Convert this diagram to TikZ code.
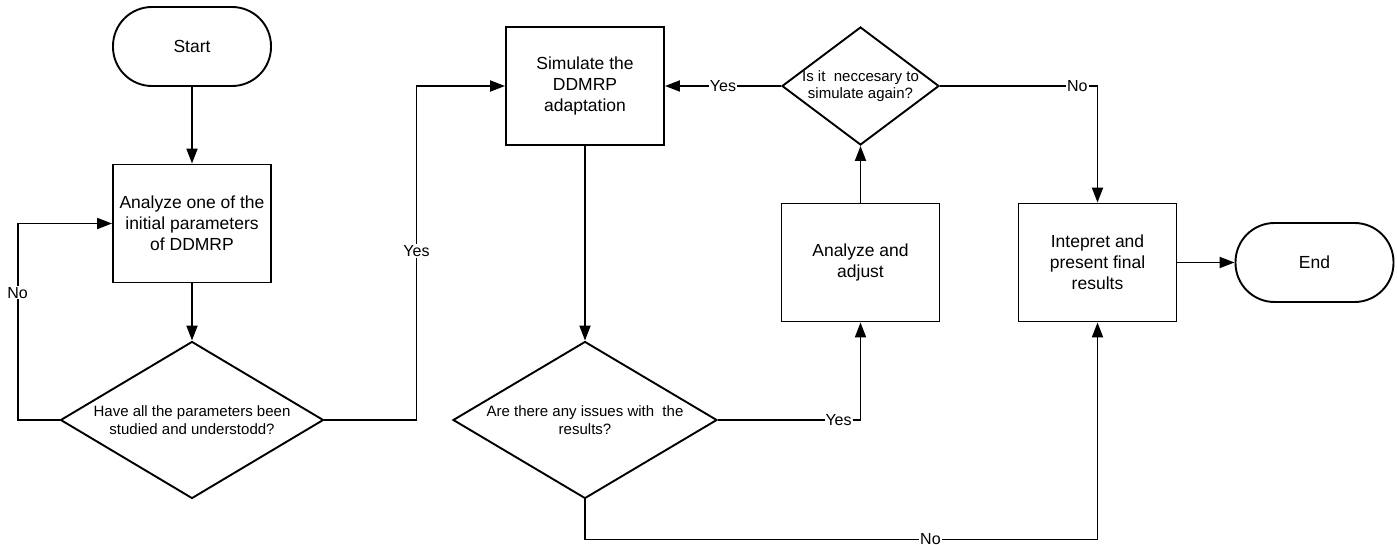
\documentclass[tikz,border=0pt]{standalone}
\usepackage{fontspec}
\setmainfont{Liberation Sans}
\usepackage{tikz}
\usetikzlibrary{arrows.meta,shapes.geometric}

\begin{document}
\begin{tikzpicture}[x=1pt,y=-1pt,
  term/.style={draw,line width=1.9pt,rounded corners=39pt,minimum width=158pt,minimum height=79pt,font=\fontsize{17.5}{21}\selectfont},
  proc/.style={draw,line width=1.9pt,minimum width=158pt,minimum height=118pt,align=center,font=\fontsize{17.5}{21}\selectfont},
  dec/.style={draw,diamond,line width=1.9pt,aspect=1.5,inner xsep=-22pt,inner ysep=0pt,align=center,font=\fontsize{15}{17.5}\selectfont},
  arr/.style={-{Triangle[length=15pt,width=11pt]},line width=1.9pt},
  lbl/.style={fill=white,inner sep=1pt,font=\fontsize{16}{18}\selectfont}]
 \useasboundingbox (0,0) rectangle (1397,545);
 \node[term] (st) at (192,46.5) {Start};
 \node[proc] (a1) at (192,223.5) {Analyze one of the\\initial parameters\\of DDMRP};
 \node[dec,minimum width=263pt,minimum height=157pt] (d1) at (192,420) {Have all the parameters been\\studied and understodd?};
 \node[proc] (sim) at (585,86) {Simulate the\\DDMRP\\adaptation};
 \node[dec,minimum width=264pt,minimum height=157pt] (d2) at (585,420) {Are there any issues with\ \ the\\results?};
 \node[proc] (aa) at (860.5,262.5) {Analyze and\\adjust};
 \node[dec,minimum width=157pt,minimum height=118pt] (d3) at (860.5,86) {Is it\ \ neccesary to\\simulate again?};
 \node[proc] (ip) at (1097.5,262.5) {Intepret and\\present final\\results};
 \node[term] (en) at (1314.5,262.5) {End};
 \foreach \a/\b in {st/a1,a1/d1,sim/d2,aa/d3,ip/en} \draw[arr] (\a)--(\b);
 \draw[arr] (d1.west) -- ++(-42,0) |- node[lbl,pos=0.324]{No} (a1.west);
 \draw[arr] (d1.east) -- ++(92,0) |- node[lbl,pos=0.253]{Yes} (sim.west);
 \draw[arr] (d3.west) -- node[lbl]{Yes} (sim.east);
 \draw[arr] (d2.east) -| node[lbl,pos=0.423]{Yes} (aa.south);
 \draw[arr] (d3.east) -| node[lbl,pos=0.436]{No} (ip.north);
 \draw[arr] (d2.south) -- ++(0,40) -| node[lbl,pos=0.337]{No} (ip.south);
\end{tikzpicture}
\end{document}
